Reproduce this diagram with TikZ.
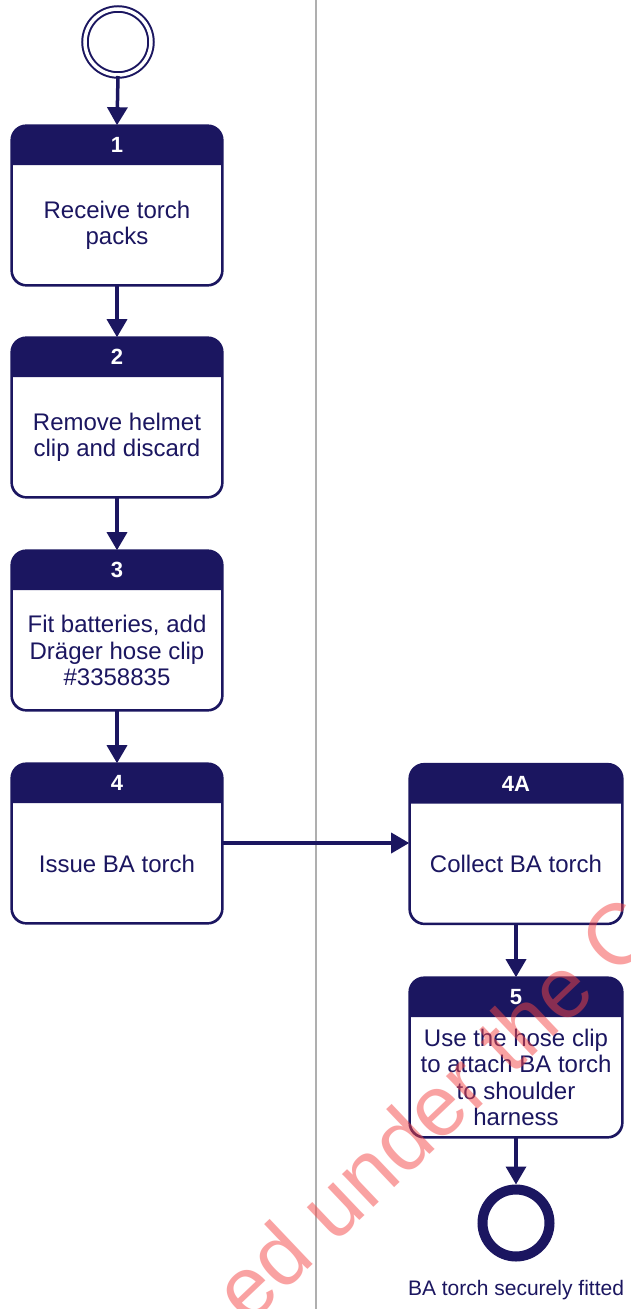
\documentclass[tikz,border=0pt]{standalone}
\usepackage{fontspec}
\setmainfont{Liberation Sans}
\usetikzlibrary{arrows.meta,calc}
\definecolor{navy}{RGB}{27,22,96}
\definecolor{lanegray}{RGB}{175,175,175}
\definecolor{wmred}{RGB}{245,70,70}
\tikzset{
  stepbox/.style={rectangle, rounded corners=15pt, draw=navy, line width=1.6pt, fill=white,
    minimum width=210pt, minimum height=159pt, inner sep=0pt},
  headtxt/.style={text=white, font=\fontsize{22}{24}\selectfont\bfseries},
  bodytxt/.style={text=navy, align=center, font=\fontsize{24}{26.5}\selectfont, inner sep=0pt},
  flow/.style={draw=navy, line width=3.5pt, -{Triangle[length=18pt,width=20pt]}},
}
\newcommand{\headband}[1]{%
  \fill[navy] ([yshift=-40pt]#1.north west) [rounded corners=15pt] -- (#1.north west) -- (#1.north east) [sharp corners] -- ([yshift=-40pt]#1.north east) -- cycle;
  \draw[navy, line width=1.6pt, rounded corners=15pt] (#1.north west) rectangle (#1.south east);
}
\begin{document}
\begin{tikzpicture}[x=1pt, y=-1pt]
\useasboundingbox (0,0) rectangle (630,1309);
\fill[white] (0,0) rectangle (630,1309);
% lane divider
\draw[lanegray, line width=2pt] (316,0) -- (316,1309);

% start event
\node[circle, draw=navy, line width=2pt, double=white, double distance=3.5pt, minimum size=66pt, inner sep=0pt] (start) at (118,42) {};

% boxes
\node[stepbox] (b1) at (117,205.5) {};
\headband{b1}
\node[headtxt] (b1h) at ([yshift=-20pt]b1.north) {1};
\node[bodytxt] (b1t) at ([yshift=-20pt]b1.center) {Receive torch\\packs};

\node[stepbox] (b2) at (117,417.5) {};
\headband{b2}
\node[headtxt] (b2h) at ([yshift=-20pt]b2.north) {2};
\node[bodytxt] (b2t) at ([yshift=-20pt]b2.center) {Remove helmet\\clip and discard};

\node[stepbox] (b3) at (117,630.5) {};
\headband{b3}
\node[headtxt] (b3h) at ([yshift=-20pt]b3.north) {3};
\node[bodytxt] (b3t) at ([yshift=-20pt]b3.center) {Fit batteries, add\\Dräger hose clip\\\#3358835};

\node[stepbox] (b4) at (117,843.5) {};
\headband{b4}
\node[headtxt] (b4h) at ([yshift=-20pt]b4.north) {4};
\node[bodytxt] (b4t) at ([yshift=-20pt]b4.center) {Issue BA torch};

\node[stepbox, minimum width=212pt] (b4a) at (516,844) {};
\headband{b4a}
\node[headtxt] (b4ah) at ([yshift=-20pt]b4a.north) {4A};
\node[bodytxt] (b4at) at ([yshift=-20pt]b4a.center) {Collect BA torch};

\node[stepbox, minimum width=212pt] (b5) at (516,1057.5) {};
\headband{b5}
\node[headtxt] (b5h) at ([yshift=-20pt]b5.north) {5};
\node[bodytxt] (b5t) at ([yshift=-20pt]b5.center) {Use the hose clip\\to attach BA torch\\to shoulder\\harness};

% end event
\node[circle, draw=navy, line width=10pt, minimum size=67pt, inner sep=0pt] (finish) at (516,1223) {};
\node[text=navy, font=\fontsize{21}{24}\selectfont] (finishl) at (516,1290) {BA torch securely fitted};

% connectors
\draw[flow] (start.south) -- (b1.north);
\draw[flow] (b1.south) -- (b2.north);
\draw[flow] (b2.south) -- (b3.north);
\draw[flow] (b3.south) -- (b4.north);
\draw[flow] (b4.east |- 0,843) -- (b4a.west |- 0,843);
\draw[flow] (b4a.south) -- (b5.north);
\draw[flow] (b5.south) -- (finish.north);

% watermark
\begin{scope}
\clip (0,0) rectangle (630,1309);
\node[anchor=base west, rotate=43.5, text=wmred, opacity=0.5, inner sep=0pt, font=\fontsize{86}{88}\selectfont] (wm) at (248,1327) {ed under the C};
\end{scope}
\end{tikzpicture}
\end{document}
